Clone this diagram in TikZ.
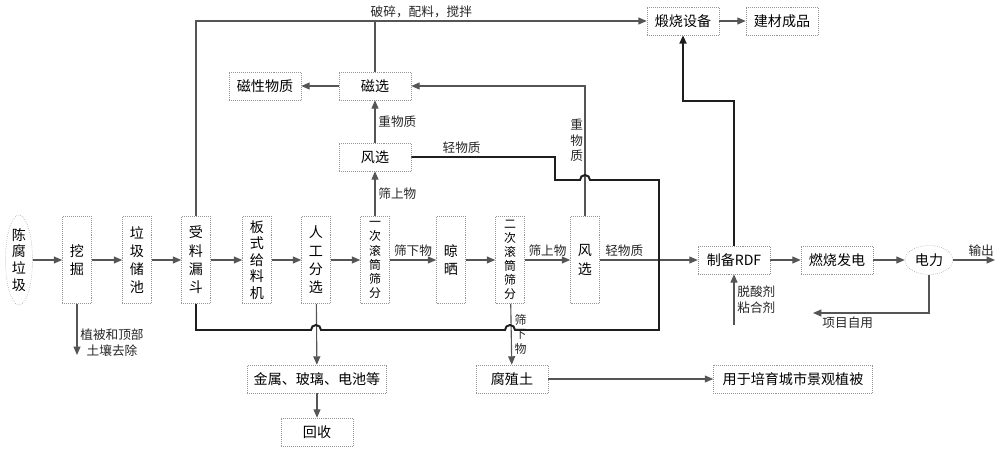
\documentclass[tikz,border=0pt]{standalone}
\usepackage{fontspec}
\setmainfont{Noto Sans CJK SC}
\usetikzlibrary{arrows.meta,shapes.geometric}
\definecolor{linegray}{RGB}{85,85,85}
\definecolor{boxgray}{RGB}{150,150,150}
\definecolor{heavyline}{RGB}{30,30,30}

\begin{document}
\begin{tikzpicture}[x=0.025cm, y=-0.025cm,
  box/.style={draw=boxgray, densely dotted, inner sep=0pt, align=center, font=\fontsize{10}{13}\selectfont},
  hbox/.style={box, minimum width=1.8cm, minimum height=0.7cm},
  vbox/.style={box, minimum width=0.725cm, minimum height=2.175cm},
  drum/.style={vbox, font=\fontsize{8.5}{10}\selectfont},
  oval/.style={box, ellipse, minimum width=0.675cm, minimum height=2.2cm, font=\fontsize{10}{12}\selectfont},
  arr/.style={draw=linegray, line width=0.8pt, -{Triangle[length=6pt,width=5pt]}},
  link/.style={draw=linegray, line width=0.8pt},
  heavy/.style={draw=heavyline, line width=1.4pt},
  lbl/.style={font=\fontsize{9}{11}\selectfont, inner sep=2pt, text=black!85}]
\useasboundingbox (0,0) rectangle (1000,451);

% Main line
\node[oval] (raw) at (19,260) {陈\\腐\\垃\\圾};
\node[vbox] (dig) at (77,260) {挖\\掘};
\node[vbox] (pool) at (137,260) {垃\\圾\\储\\池};
\node[vbox] (hopper) at (196,260) {受\\料\\漏\\斗};
\node[vbox, font=\fontsize{10}{11.7}\selectfont] (feeder) at (257,260) {板\\式\\给\\料\\机};
\node[vbox] (manual) at (316,260) {人\\工\\分\\选};
\node[drum] (drumA) at (375,260) {一\\次\\滚\\筒\\筛\\分};
\node[vbox] (dry) at (451,260) {晾\\晒};
\node[drum] (drumB) at (510,260) {二\\次\\滚\\筒\\筛\\分};
\node[vbox] (windB) at (585,260) {风\\选};
\node[hbox] (rdf) at (734,260) {制备RDF};
\node[hbox] (burn) at (837,260) {燃烧发电};
\node[box, ellipse, minimum width=1.2cm, minimum height=0.725cm] (elec) at (929,260) {电力};
\coordinate (out) at (995,260);

% Upper branch
\node[hbox] (windA) at (375,157) {风选};
\node[hbox] (mag) at (375,86) {磁选};
\node[hbox] (magm) at (265,86) {磁性物质};
\node[hbox] (calc) at (683,21) {煅烧设备};
\node[hbox] (build) at (782,21) {建材成品};

% Lower branch
\node[hbox, minimum width=3.475cm] (metal) at (317,379) {金属、玻璃、电池等};
\node[hbox] (recyc) at (317,432) {回收};
\node[hbox] (humus) at (512,379) {腐殖土};
\node[hbox, minimum width=3.975cm] (park) at (793,379) {用于培育城市景观植被};
\coordinate (digout) at (77,355);
\coordinate (add) at (734,325);
\coordinate (self) at (813,313);

% Arrows along the main line
\draw[arr] (raw) -- (dig);
\draw[arr] (dig) -- (pool);
\draw[arr] (pool) -- (hopper);
\draw[arr] (hopper) -- (feeder);
\draw[arr] (feeder) -- (manual);
\draw[arr] (manual) -- (drumA);
\draw[arr] (drumA) -- node[lbl, above] (underA) {筛下物} (dry);
\draw[arr] (dry) -- (drumB);
\draw[arr] (drumB) -- node[lbl, above] (overB) {筛上物} (windB);
\draw[arr] (windB) -- node[lbl, above, pos=0.25] (lightB) {轻物质} (rdf);
\draw[arr] (rdf) -- (burn);
\draw[arr] (burn) -- (elec);
\draw[arr] (elec) -- node[lbl, above, pos=0.67] (export) {输出} (out);
\draw[arr] (elec.south) |- node[lbl, below, pos=0.85] (selfuse) {项目自用} (self);
\draw[arr] (add) -- node[lbl, right, align=left] (agent) {脱酸剂\\粘合剂} (rdf);

% Downward arrows
\draw[arr] (dig) -- node[lbl, right, pos=0.76, align=center] (topsoil) {植被和顶部\\土壤去除} (digout);
\draw[arr] (manual) -- (metal);
\draw[arr] (metal) -- (recyc);
\draw[arr] (drumB) -- node[lbl, right, align=center, font=\fontsize{8.5}{10.5}\selectfont] (underB) {筛\\下\\物} (humus);
\draw[arr] (humus) -- (park);

% Upward arrows
\draw[arr] (drumA) -- node[lbl, right] (overA) {筛上物} (windA);
\draw[arr] (windA) -- node[lbl, right] (heavyA) {重物质} (mag);
\draw[arr] (mag) -- (magm);
\draw[arr] (windB.north) |- node[lbl, left, pos=0.29, align=center, inner sep=1pt] (heavyB) {重\\物\\质} (mag.east);
\draw[arr] (hopper.north) |- node[lbl, above, pos=0.75] (mix) {破碎，配料，搅拌} (calc.west);
\draw[link] (mag.north) -- (mag.north |- calc.west);
\draw[arr] (calc) -- (build);

% Light material loop
\draw[heavy] (windA.east) -- node[lbl, above, pos=0.35] (lightA) {轻物质} (555,157) -- (555,180)
  -- (580,180) arc[start angle=180, end angle=0, radius=0.125cm] -- (659,180) -- (659,330)
  -- (515,330) arc[start angle=0, end angle=180, radius=0.125cm]
  -- (321,330) arc[start angle=0, end angle=180, radius=0.125cm]
  -- (196,330) -- (hopper.south);

% RDF to kiln
\draw[heavy, -{Triangle[length=6pt,width=5pt]}] (rdf.north) -- ++(0,-145) -| (calc.south);
\end{tikzpicture}
\end{document}
